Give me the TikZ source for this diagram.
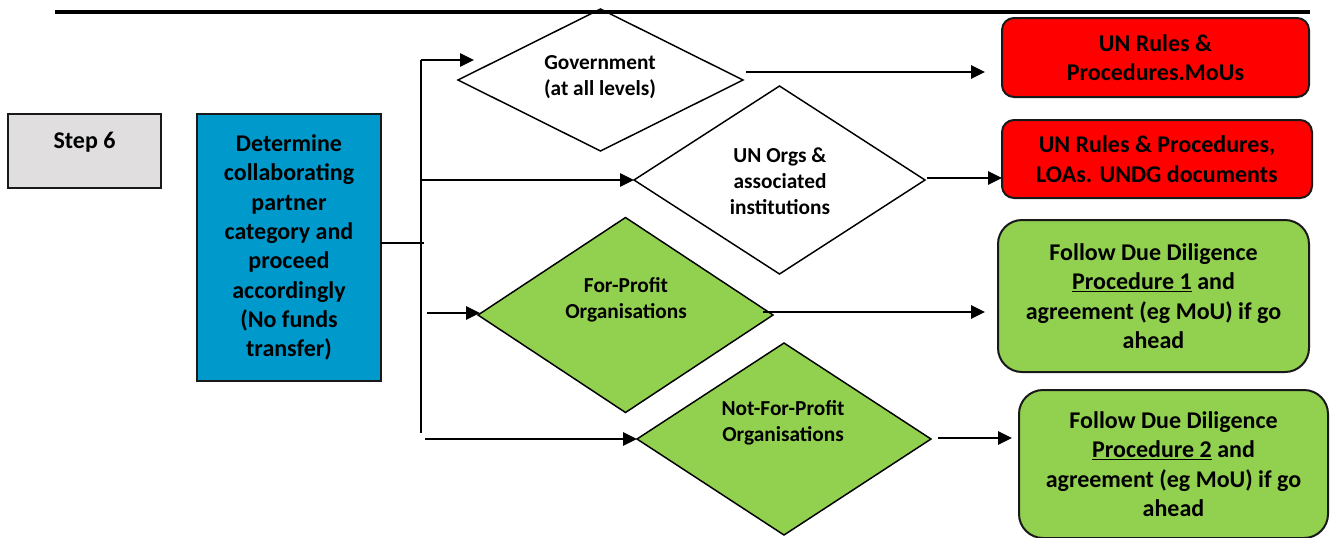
\documentclass[tikz,border=0pt]{standalone}
\usepackage{fontspec}
\setmainfont{Carlito}
\usetikzlibrary{shapes.geometric,arrows.meta,calc}

\definecolor{stepgrey}{HTML}{E0DEDF}
\definecolor{taskblue}{HTML}{0099CC}
\definecolor{rulered}{HTML}{FF0000}
\definecolor{okgreen}{HTML}{92D050}

\begin{document}
\begin{tikzpicture}[x=0.75pt,y=-0.75pt,
  box/.style={draw=black!90, line width=1.5pt, inner sep=0pt, outer sep=0pt,
    align=center, font=\bfseries\fontsize{18}{22}\selectfont},
  rbox/.style={box, rounded corners=9pt},
  gbox/.style={box, rounded corners=18pt, fill=okgreen},
  choice/.style={diamond, draw=black, line width=1.1pt, inner sep=0pt, outer sep=0pt},
  choicetext/.style={align=center, inner sep=0pt, font=\bfseries\fontsize{16}{19.5}\selectfont},
  link/.style={line width=1.3pt},
  arr/.style={link, -{Triangle[length=10.5pt,width=10pt]}}]

\useasboundingbox (0,0) rectangle (1330,537);

% heading rule
\draw[line width=3pt] (55,12) -- (1310,12);

% left column
\node[box, fill=stepgrey, minimum width=114.75pt, text height=25.5pt, text depth=30pt]
  (step) at (84.5,151) {Step 6};
\node[box, fill=taskblue, minimum width=138pt, minimum height=200.25pt]
  (task) at (289,247.5) {Determine\\collaborating\\partner\\category and\\proceed\\accordingly\\(No funds\\transfer)};

% partner categories
\node[choice, minimum width=213.75pt, minimum height=106.5pt] (gov) at (600.5,80) {};
\node[choicetext] at (600,77) {Government\\(at all levels)};
\node[choice, minimum width=218.25pt, minimum height=141pt] (un) at (779.5,180) {};
\node[choicetext] at (780,181) {UN Orgs \&\\associated\\institutions};
\node[choice, fill=okgreen, minimum width=221.25pt, minimum height=146.25pt] (fp) at (625.5,315) {};
\node[choicetext] at (626,300) {For-Profit\\Organisations};
\node[choice, fill=okgreen, minimum width=220.5pt, minimum height=144pt] (nfp) at (784,439) {};
\node[choicetext] at (783,422.5) {Not-For-Profit\\Organisations};

% outcomes
\node[rbox, fill=rulered, minimum width=230.25pt, minimum height=59.25pt]
  (red1) at (1155.5,57.5) {UN Rules \&\\Procedures.MoUs};
\node[rbox, fill=rulered, minimum width=232.5pt, minimum height=58.5pt]
  (red2) at (1157,159) {UN Rules \& Procedures,\\LOAs. UNDG documents};
\node[gbox, minimum width=233.25pt, minimum height=114pt]
  (dd1) at (1153.5,296) {Follow Due Diligence\\\underline{Procedure 1} and\\agreement (eg MoU) if go\\ahead};
\node[gbox, minimum width=231.75pt, minimum height=111pt]
  (dd2) at (1173.5,464) {Follow Due Diligence\\\underline{Procedure 2} and\\agreement (eg MoU) if go\\ahead};

% branching trunk
\coordinate (ttop) at (421,60);
\coordinate (tbot) at (421,433);
\coordinate (hub) at (424,243);
\draw[link] (ttop) -- (tbot);
\draw[link] (task.east |- hub) -- (hub);

% branches into the categories
\coordinate (govin) at (474,60);
\draw[arr] (ttop) -- (govin);
\draw[arr] (ttop |- un.west) -- (un.west);
\draw[arr] ($(ttop |- fp.west)+(6,-2)$) -- ($(fp.west)+(2,-2)$);
\draw[arr] ($(ttop |- nfp.west)+(4,0)$) -- (nfp.west);

% categories to outcomes
\draw[arr] ($(gov.east)+(3,-8)$) -- ($(red1.west |- gov.east)+(-17,-8)$);
\draw[arr] ($(un.east)+(2,-2)$) -- ($(red2.west |- un.east)+(0,-2)$);
\draw[arr] ($(fp.east)+(-10,-3)$) -- ($(dd1.west |- fp.east)+(-13,-3)$);
\draw[arr] ($(nfp.east)+(7,-1)$) -- ($(dd2.west |- nfp.east)+(-7,-1)$);

\end{tikzpicture}
\end{document}
